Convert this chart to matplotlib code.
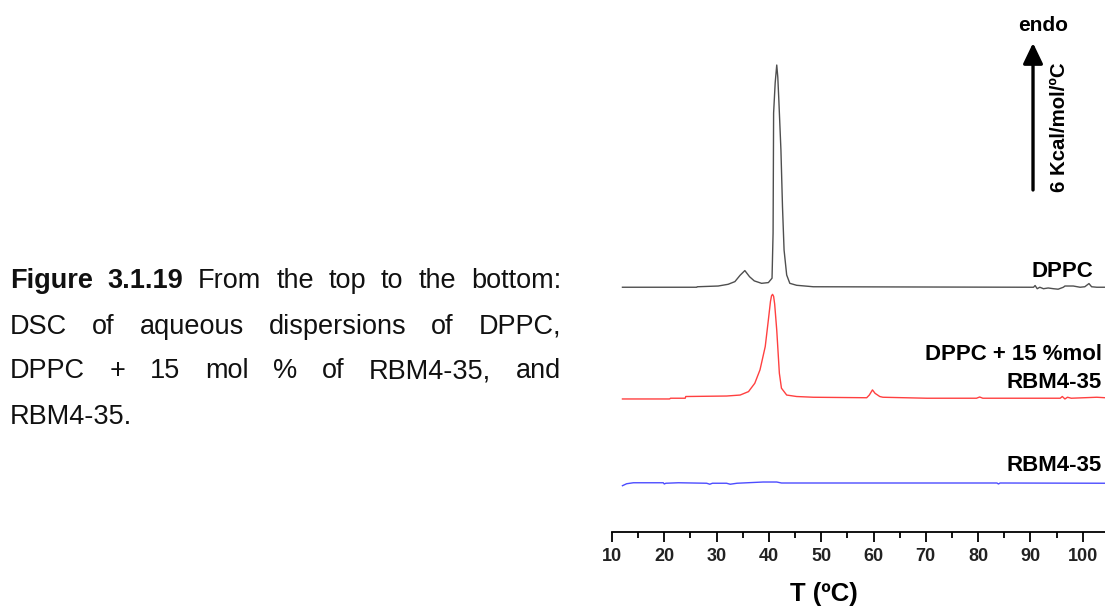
import matplotlib
matplotlib.use("Agg")
import matplotlib.pyplot as plt
from matplotlib.transforms import IdentityTransform

plt.rcParams["font.family"] = ["Liberation Sans", "DejaVu Sans"]

# ---- DSC thermograms: excess heat capacity (kcal/mol/ºC) vs temperature (ºC) ----
dppc_t = [12.0, 26.2, 26.3, 30.3, 32.2, 33.5, 34.5, 35.4, 36.3, 37.2,
          38.6, 39.9, 40.6, 40.8, 40.9, 41.2, 41.5, 41.7, 41.9, 42.3,
          42.6, 42.9, 43.4, 44.0, 45.3, 48.5, 89.9, 90.6, 90.9, 91.3,
          91.8, 92.5, 93.4, 94.4, 95.3, 96.3, 96.6, 98.2, 99.5, 100.4,
          101.2, 101.7, 102.7, 104.3]
dppc_cp = [0.0, 0.0, 0.02, 0.05, 0.12, 0.23, 0.49, 0.68, 0.43, 0.26,
           0.16, 0.19, 0.37, 2.22, 7.11, 8.34, 9.07, 8.58, 7.64, 5.60,
           3.28, 1.52, 0.50, 0.16, 0.08, 0.02, 0.0, 0.0, 0.07, -0.06,
           0.0, -0.06, -0.03, -0.06, -0.08, 0.0, 0.05, 0.05, 0.0, 0.02,
           0.15, 0.02, 0.0, 0.0]

mix_t = [12.0, 21.0, 21.2, 24.0, 24.1, 31.9, 34.5, 36.1, 37.3, 38.3,
         39.3, 39.9, 40.3, 40.5, 40.7, 40.9, 41.1, 41.5, 42.0, 42.4,
         43.4, 45.3, 48.5, 58.7, 59.2, 59.8, 60.3, 61.2, 61.8, 70.2,
         79.7, 80.3, 80.9, 95.7, 96.1, 96.6, 97.1, 97.8, 102.7, 104.3]
mix_cp = [-0.03, -0.03, 0.0, 0.0, 0.07, 0.09, 0.13, 0.27, 0.61, 1.16,
          2.11, 3.20, 3.95, 4.18, 4.24, 4.16, 3.85, 2.78, 1.02, 0.41,
          0.13, 0.07, 0.04, 0.02, 0.13, 0.34, 0.20, 0.07, 0.04, 0.0,
          0.0, 0.05, 0.0, 0.0, 0.07, -0.03, 0.04, 0.0, 0.04, 0.02]

rbm_t = [12.0, 12.8, 14.1, 19.8, 20.0, 20.3, 22.7, 28.1, 28.7, 29.2,
         31.9, 32.6, 33.9, 38.9, 41.5, 42.4, 83.6, 83.9, 84.2, 104.3]
rbm_cp = [-0.10, -0.02, 0.02, 0.02, -0.03, 0.0, 0.02, 0.0, -0.04, 0.0,
          0.0, -0.04, 0.0, 0.05, 0.05, 0.01, 0.01, -0.03, 0.01, 0.0]

x_ticks = [10, 20, 30, 40, 50, 60, 70, 80, 90, 100]
scale_bar = 6  # kcal/mol/ºC

# vertical stacking of the traces
offset_dppc = 9.99
offset_mix = 5.46
offset_rbm = 1.99

W, H = 1105, 607
fig = plt.figure(figsize=(W / 100, H / 100), dpi=100)
fig.patch.set_facecolor("white")

ax = fig.add_axes([612 / W, 75 / H, 493 / W, 532 / H])
ax.set_facecolor("none")
ax.set_xlim(10, 10 + 493 / 5.23)
ax.set_ylim(0, 532 / 24.5)

ax.plot(dppc_t, [v + offset_dppc for v in dppc_cp], color="#4f4f4f", lw=1.0)
ax.plot(mix_t, [v + offset_mix for v in mix_cp], color="#ff4040", lw=1.0)
ax.plot(rbm_t, [v + offset_rbm for v in rbm_cp], color="#4c4cff", lw=1.0)

for side in ("left", "right", "top"):
    ax.spines[side].set_visible(False)
ax.spines["bottom"].set_linewidth(1.3)
ax.spines["bottom"].set_bounds(10, ax.get_xlim()[1])
ax.yaxis.set_visible(False)
ax.set_xticks(x_ticks)
ax.set_xticks([t + 5 for t in x_ticks[:-1]], minor=True)
ax.tick_params(axis="x", which="major", direction="out", length=7.2, width=1.3,
               pad=4.0, labelsize=13)
ax.tick_params(axis="x", which="minor", direction="out", length=4.3, width=1.3)
for lab in ax.get_xticklabels():
    lab.set_fontweight("bold")
    lab.set_color("#222222")

ax.text(50.5, -2.82, "T (ºC)", ha="center", va="baseline",
        fontsize=18.5, fontweight="bold")

# trace labels
lab_kw = dict(ha="right", va="baseline", fontsize=16, fontweight="bold")
ax.text(101.97, 10.42, "DPPC", **lab_kw)
ax.text(103.63, 7.02, "DPPC + 15 %mol", **lab_kw)
ax.text(103.63, 5.87, "RBM4-35", **lab_kw)
ax.text(103.63, 2.50, "RBM4-35", **lab_kw)

# endothermic scale bar
bar_x, bar_y0 = 90.5, 13.96
ax.annotate("", xy=(bar_x, bar_y0 + scale_bar), xytext=(bar_x, bar_y0),
            arrowprops=dict(arrowstyle="-|>,head_length=1.25,head_width=0.6",
                            lw=2.4, color="black", shrinkA=0, shrinkB=0,
                            mutation_scale=10))
ax.text(92.41, 20.46, "endo", ha="center", va="baseline",
        fontsize=15, fontweight="bold")
ax.text(95.6, 16.54, "6 Kcal/mol/ºC", rotation=90,
        ha="center", va="center", fontsize=14.7, fontweight="bold")

# justified caption block
caption_lines = [
    [("Figure", True), ("3.1.19", True), ("From", False), ("the", False),
     ("top", False), ("to", False), ("the", False), ("bottom:", False)],
    [("DSC", False), ("of", False), ("aqueous", False), ("dispersions", False),
     ("of", False), ("DPPC,", False)],
    [("DPPC", False), ("+", False), ("15", False), ("mol", False), ("%", False),
     ("of", False), ("RBM4-35,", False), ("and", False)],
    [("RBM4-35.", False)],
]
baselines = [288.5, 333.5, 378.5, 423.5]
left, right = 10, 561

renderer = fig.canvas.get_renderer()
for i, words in enumerate(caption_lines):
    y = H - baselines[i]
    items = [fig.text(0, y, w, transform=IdentityTransform(), fontsize=19.5,
                      fontweight="bold" if b else "normal", va="baseline",
                      ha="left", color="#111111") for w, b in words]
    widths = [t.get_window_extent(renderer).width for t in items]
    last = i == len(caption_lines) - 1
    if len(items) > 1 and not last:
        gap = (right - left - sum(widths)) / (len(items) - 1)
    else:
        gap = 0.27 * 19.5 * 100 / 72
    x = left
    for t, w in zip(items, widths):
        t.set_position((x, y))
        x += w + gap

fig.savefig("out.png", dpi=100)
